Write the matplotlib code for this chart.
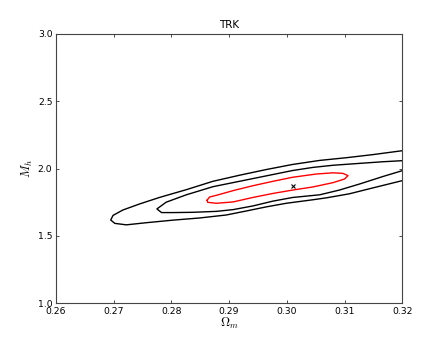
import matplotlib
matplotlib.use("Agg")
from matplotlib import pyplot as plt

# contour outlines (Omega_m, M_h)
outer_x = [0.3200, 0.3149, 0.3103, 0.3057, 0.3010, 0.2964, 0.2918, 0.2872, 0.2826,
           0.2780, 0.2745, 0.2716, 0.2699, 0.2695, 0.2702, 0.2722, 0.2757, 0.2803,
           0.2849, 0.2895, 0.2930, 0.2964, 0.2999, 0.3045, 0.3068, 0.3108, 0.3149, 0.3200]
outer_y = [2.132, 2.103, 2.080, 2.060, 2.030, 1.992, 1.950, 1.905, 1.843,
           1.786, 1.737, 1.692, 1.652, 1.618, 1.593, 1.582, 1.598, 1.617,
           1.633, 1.655, 1.685, 1.715, 1.742, 1.768, 1.782, 1.812, 1.856, 1.910]

middle_x = [0.3200, 0.3166, 0.3126, 0.3080, 0.3045, 0.3010, 0.2964, 0.2918, 0.2872,
            0.2826, 0.2791, 0.2775, 0.2783, 0.2803, 0.2837, 0.2878, 0.2907, 0.2941,
            0.2976, 0.3010, 0.3057, 0.3091, 0.3126, 0.3166, 0.3200]
middle_y = [2.058, 2.050, 2.038, 2.024, 2.008, 1.985, 1.945, 1.905, 1.865,
            1.805, 1.750, 1.700, 1.673, 1.673, 1.675, 1.682, 1.695, 1.722,
            1.758, 1.785, 1.805, 1.840, 1.885, 1.940, 1.984]

inner_x = [0.2862, 0.2866, 0.2884, 0.2907, 0.2941, 0.2976, 0.3010, 0.3051, 0.3080,
           0.3097, 0.3106, 0.3100, 0.3080, 0.3045, 0.3010, 0.2976, 0.2941, 0.2907,
           0.2878, 0.2863, 0.2862]
inner_y = [1.765, 1.788, 1.808, 1.836, 1.872, 1.905, 1.935, 1.959, 1.968,
           1.964, 1.947, 1.922, 1.895, 1.863, 1.840, 1.815, 1.785, 1.752,
           1.742, 1.749, 1.765]

best_x = [0.3010]
best_y = [1.870]

xticks = [0.26, 0.27, 0.28, 0.29, 0.30, 0.31, 0.32]
yticks = [1.0, 1.5, 2.0, 2.5, 3.0]

plt.rcParams["font.size"] = 6.7
plt.rcParams["mathtext.fontset"] = "cm"

fig = plt.figure(figsize=(4.47, 3.37), dpi=100)
ax = fig.add_axes([0.125, 0.1, 0.775, 0.8])

line_kw = dict(lw=1.0, solid_joinstyle="round")
ax.plot(outer_x, outer_y, color="black", **line_kw)
ax.plot(middle_x, middle_y, color="black", **line_kw)
ax.plot(inner_x, inner_y, color="red", **line_kw)
ax.plot(best_x, best_y, "x", color="black", ms=3, mew=0.8)

ax.set_xlim(0.26, 0.32)
ax.set_ylim(1.0, 3.0)
ax.set_xticks(xticks)
ax.set_xticklabels(["%.2f" % t for t in xticks])
ax.set_yticks(yticks)
ax.set_yticklabels(["%.1f" % t for t in yticks])
ax.tick_params(direction="in", top=True, right=True, length=2.5, width=0.5, pad=2.5)
for s in ax.spines.values():
    s.set_linewidth(0.8)
    s.set_color("#444444")

ax.set_xlabel(r"$\Omega_m$", fontsize=9, labelpad=0)
ax.set_ylabel(r"$M_h$", fontsize=9, labelpad=2)
ax.set_title("TRK", fontsize=7.5, pad=4)

fig.savefig("out.png", dpi=100)
